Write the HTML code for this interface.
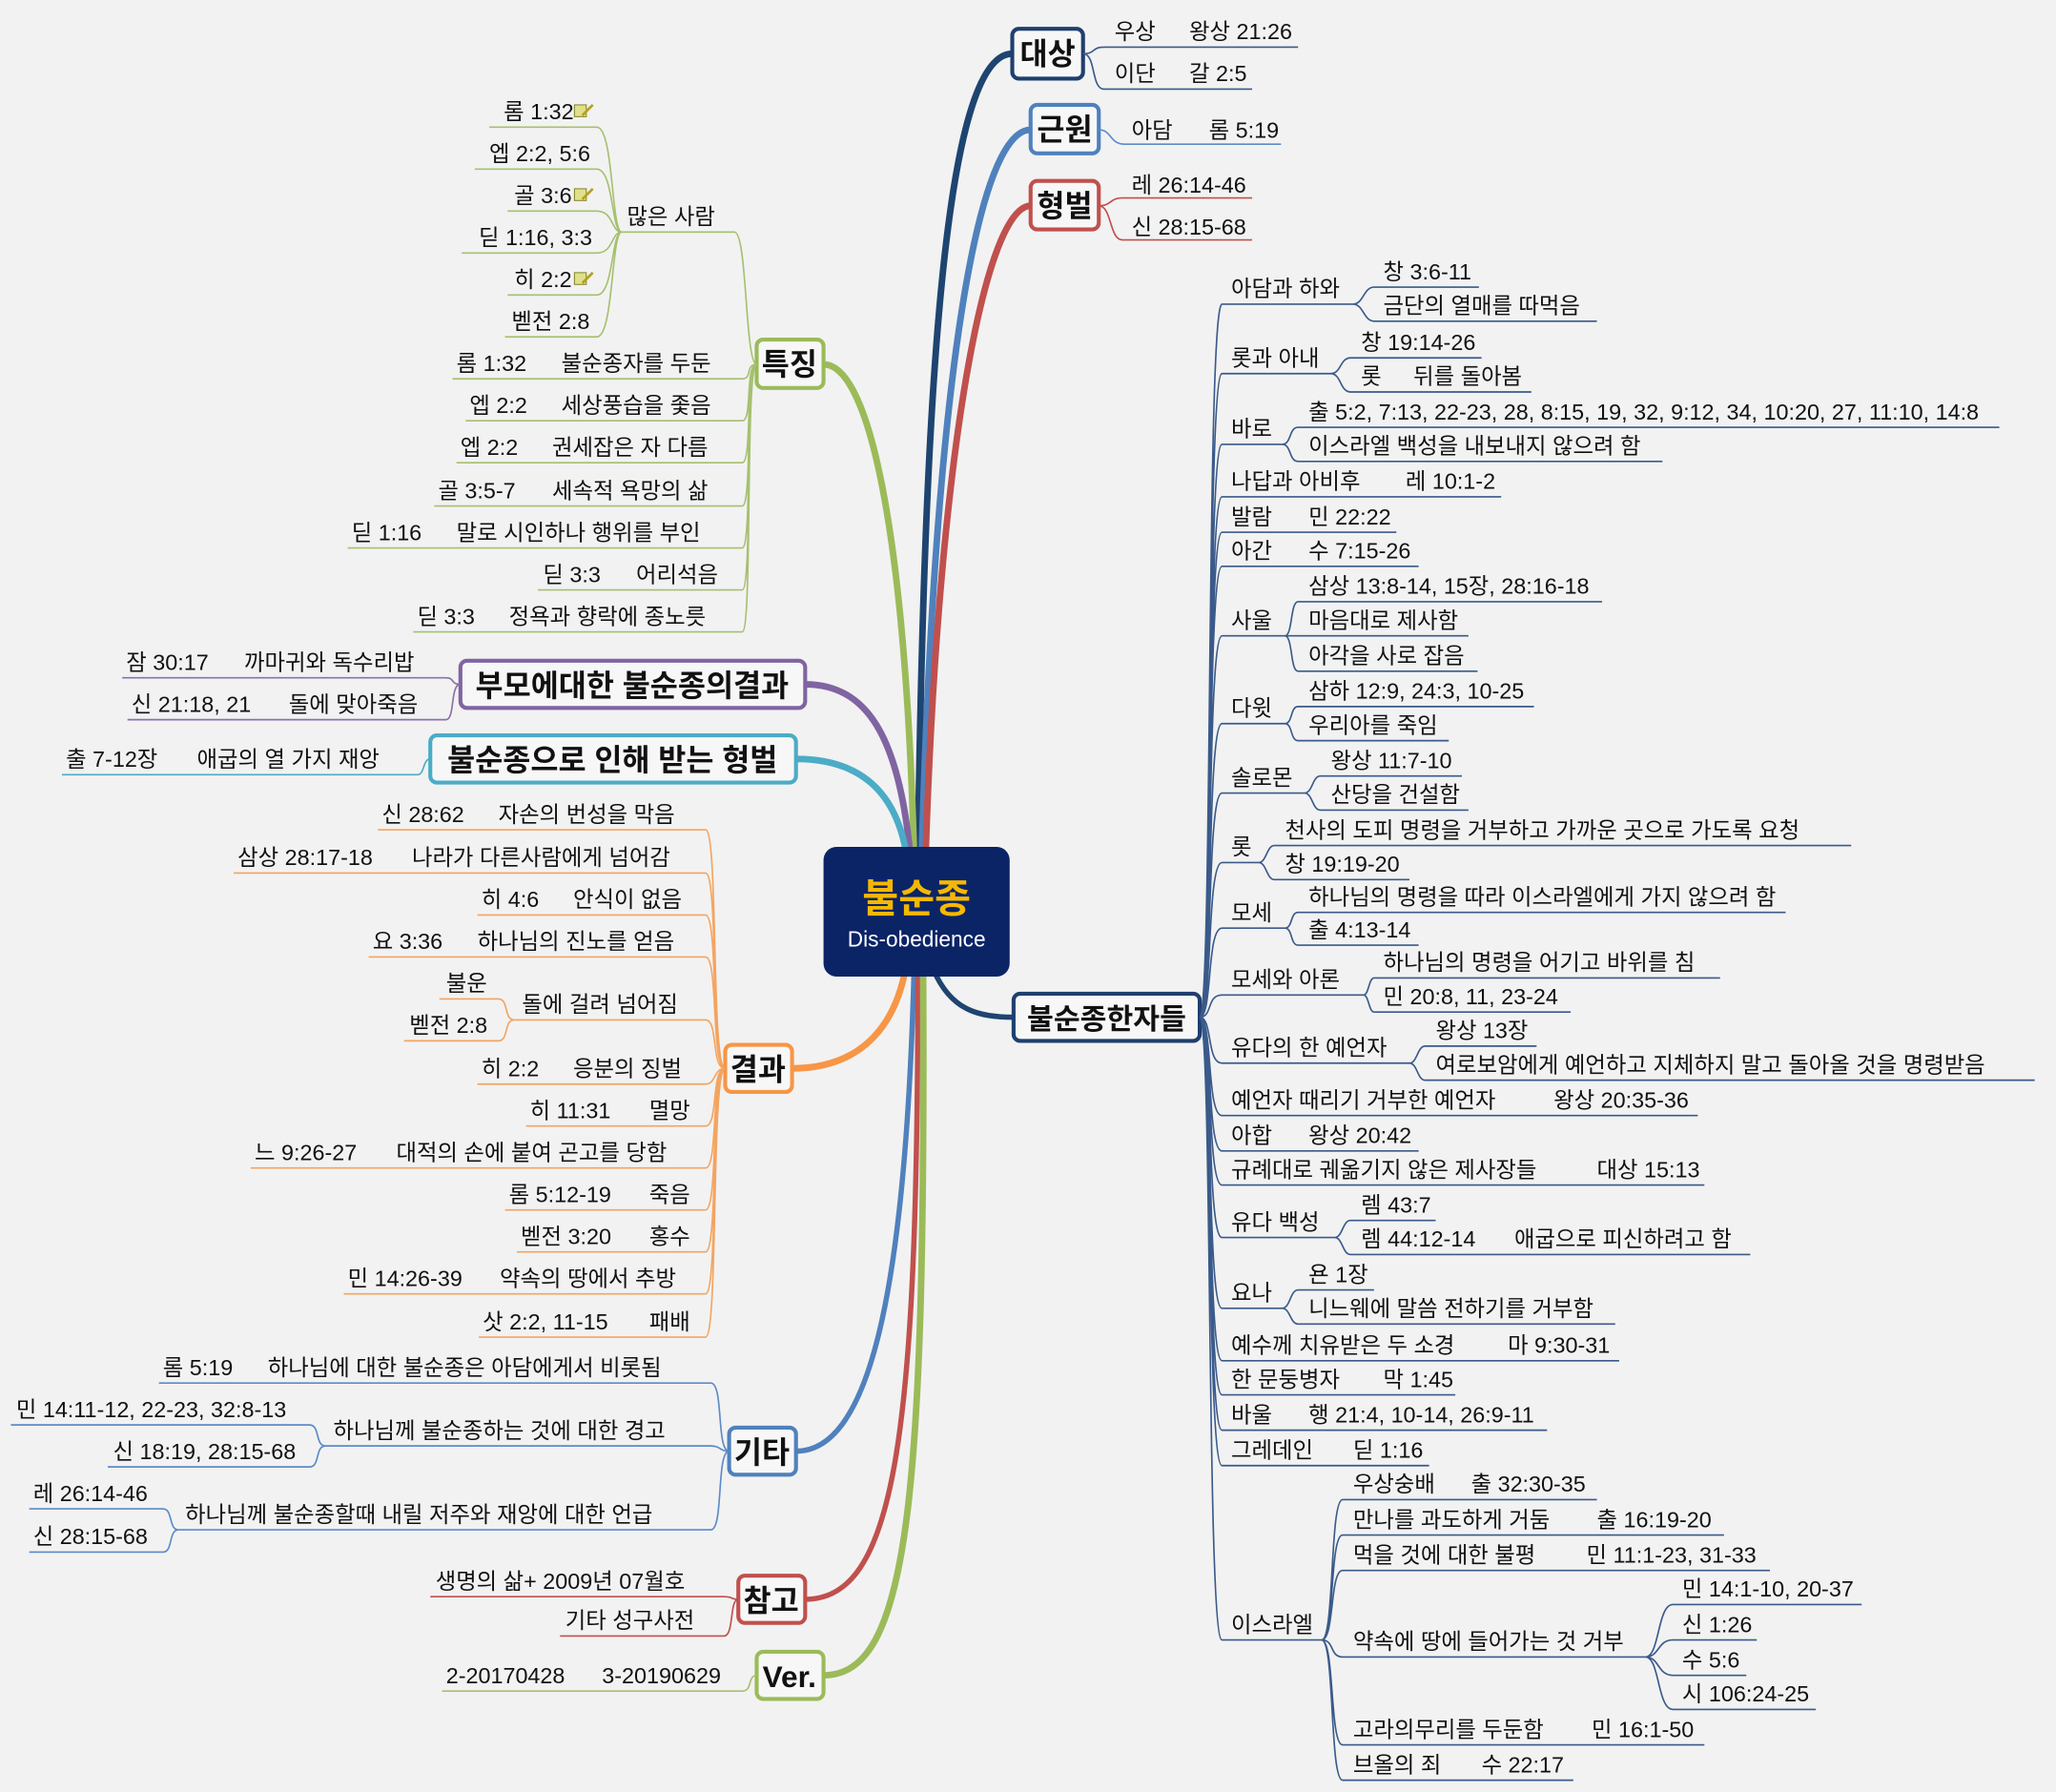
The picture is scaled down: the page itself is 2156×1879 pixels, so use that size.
<!DOCTYPE html>
<html><head><meta charset="utf-8"><style>
html,body{margin:0;padding:0;background:#f2f2f2}
svg{display:block}
text{font-family:"Liberation Sans","Noto Sans CJK KR",sans-serif;font-size:17px;fill:#111}
.b{font-size:23px;font-weight:bold}
.n{fill:none;stroke-width:1.2}
.bx{stroke-width:3;fill:#f7f7f7}
.D .n{stroke:#3a5a8a}.Bl .n{stroke:#5b8bc8}.R .n{stroke:#c0504d}
.G .n{stroke:#a6c070}.P .n{stroke:#8a70aa}.T .n{stroke:#4bacc6}.O .n{stroke:#f4a460}
</style></head><body>
<svg width="2156" height="1879" viewBox="0 0 1568 1367" xmlns="http://www.w3.org/2000/svg">
<rect width="1568" height="1367" fill="#f2f2f2"/>
<g fill="none" stroke-linecap="round">
<path d="M700 650 C705 300 720 41 772 41" stroke="#1e4470" stroke-width="5"/>
<path d="M703 650 C712 320 742 99 786 99" stroke="#4f81bd" stroke-width="5"/>
<path d="M706 650 C716 340 752 157 786 157" stroke="#c0504d" stroke-width="5"/>
<path d="M712 740 C725 770 745 776 773 776" stroke="#1e4470" stroke-width="4"/>
<path d="M697 650 C690 400 662 278 628 278" stroke="#9bbb59" stroke-width="5"/>
<path d="M694 650 C685 560 660 522 614 522" stroke="#8064a2" stroke-width="5"/>
<path d="M691 650 C682 600 652 579 607 579" stroke="#4bacc6" stroke-width="5"/>
<path d="M690 742 C680 790 650 815 604 815" stroke="#f79646" stroke-width="5"/>
<path d="M697 742 C690 1000 660 1107 607 1107" stroke="#4f81bd" stroke-width="4"/>
<path d="M700 742 C700 1100 682 1220 614 1220" stroke="#c0504d" stroke-width="4"/>
<path d="M704 742 C706 1150 692 1278 628 1278" stroke="#9bbb59" stroke-width="5"/>
</g>
<rect x="628" y="646" width="142" height="99" rx="10" fill="#0b2466"/>
<text x="699" y="696" text-anchor="middle" style="font-size:30px;font-weight:bold;fill:#f5b800">불순종</text>
<text x="699" y="722" text-anchor="middle" style="font-size:16.5px;fill:#fff">Dis-obedience</text>

<g class="D">
<rect class="bx" x="772" y="22" width="54" height="38" rx="5" stroke="#1f3f6e"/>
<text class="b" x="799" y="49" text-anchor="middle">대상</text>
<path class="n" d="M826 41 C836 41 832 36 842 36 H990 M826 41 C836 41 832 68 842 68 H955"/>
<text x="850" y="30">우상</text><text x="907" y="30">왕상 21:26</text>
<text x="850" y="62">이단</text><text x="907" y="62">갈 2:5</text>
</g>
<g class="Bl">
<rect class="bx" x="786" y="80" width="52" height="37" rx="5" stroke="#4f81bd"/>
<text class="b" x="812" y="107" text-anchor="middle">근원</text>
<path class="n" d="M838 99 C848 99 846 110 858 110 H977"/>
<text x="863" y="105">아담</text><text x="922" y="105">롬 5:19</text>
</g>
<g class="R">
<rect class="bx" x="786" y="138" width="52" height="37" rx="5" stroke="#c0504d"/>
<text class="b" x="812" y="165" text-anchor="middle">형벌</text>
<path class="n" d="M838 157 C848 157 846 151 856 151 H955 M838 157 C848 157 846 183 856 183 H955"/>
<text x="863" y="147">레 26:14-46</text><text x="863" y="179">신 28:15-68</text>
</g>

<g class="D">
<rect class="bx" x="773" y="758" width="142" height="36" rx="5" stroke="#1f3f6e"/>
<text class="b" x="844" y="785" text-anchor="middle" style="font-size:22px">불순종한자들</text>
<path class="n" d="
M915 776 C925 776 920 232 932 232 H1032 M1032 232 C1040 232 1040 219 1048 219 H1128 M1032 232 C1040 232 1040 245 1048 245 H1218
M915 776 C925 776 920 285 932 285 H1015 M1015 285 C1023 285 1022 273 1030 273 H1130 M1015 285 C1023 285 1022 299 1030 299 H1168
M915 776 C925 776 920 339 932 339 H978 M978 339 C985 339 983 326 990 326 H1525 M978 339 C985 339 983 352 990 352 H1268
M915 776 C925 776 920 379 932 379 H1145
M915 776 C925 776 920 406 932 406 H1065
M915 776 C925 776 920 432 932 432 H1082
M915 776 C925 776 920 485 932 485 H980 M980 485 C986 485 984 459 990 459 H1222 M980 485 H1120 M980 485 C986 485 984 512 990 512 H1127
M915 776 C925 776 920 552 932 552 H980 M980 552 C986 552 984 539 990 539 H1170 M980 552 C986 552 984 565 990 565 H1105
M915 776 C925 776 920 605 932 605 H995 M995 605 C1001 605 1001 592 1007 592 H1115 M995 605 C1001 605 1001 618 1007 618 H1120
M915 776 C925 776 920 658 932 658 H960 M960 658 C966 658 966 645 972 645 H1412 M960 658 C966 658 966 671 972 671 H1075
M915 776 C925 776 920 708 932 708 H980 M980 708 C986 708 984 696 990 696 H1362 M980 708 C986 708 984 721 990 721 H1082
M915 776 C925 776 920 759 932 759 H1040 M1040 759 C1044 759 1044 746 1048 746 H1312 M1040 759 C1044 759 1044 772 1048 772 H1198
M915 776 C925 776 920 811 932 811 H1075 M1075 811 C1081 811 1081 798 1087 798 H1172 M1075 811 C1081 811 1081 824 1087 824 H1552
M915 776 C925 776 920 851 932 851 H1295
M915 776 C925 776 920 878 932 878 H1082
M915 776 C925 776 920 904 932 904 H1300
M915 776 C925 776 920 944 932 944 H1018 M1018 944 C1024 944 1024 931 1030 931 H1095 M1018 944 C1024 944 1024 957 1030 957 H1335
M915 776 C925 776 920 998 932 998 H978 M978 998 C984 998 984 984 990 984 H1048 M978 998 C984 998 984 1010 990 1010 H1232
M915 776 C925 776 920 1038 932 1038 H1235
M915 776 C925 776 920 1064 932 1064 H1110
M915 776 C925 776 920 1091 932 1091 H1180
M915 776 C925 776 920 1118 932 1118 H1090
M915 776 C925 776 920 1251 932 1251 H1008
M1008 1251 C1018 1251 1014 1144 1024 1144 H1218
M1008 1251 C1018 1251 1014 1171 1024 1171 H1315
M1008 1251 C1018 1251 1014 1198 1024 1198 H1350
M1008 1251 C1018 1251 1014 1264 1024 1264 H1255
M1255 1264 C1266 1264 1264 1224 1276 1224 H1420 M1255 1264 C1266 1264 1264 1251 1276 1251 H1340 M1255 1264 C1266 1264 1264 1278 1276 1278 H1332 M1255 1264 C1266 1264 1264 1304 1276 1304 H1385
M1008 1251 C1018 1251 1014 1331 1024 1331 H1300
M1008 1251 C1018 1251 1014 1358 1024 1358 H1200
"/>
<text x="939" y="226">아담과 하와</text><text x="1055" y="213">창 3:6-11</text><text x="1055" y="239">금단의 열매를 따먹음</text>
<text x="939" y="279">롯과 아내</text><text x="1038" y="267">창 19:14-26</text><text x="1038" y="293">롯</text><text x="1078" y="293">뒤를 돌아봄</text>
<text x="939" y="333">바로</text><text x="998" y="320">출 5:2, 7:13, 22-23, 28, 8:15, 19, 32, 9:12, 34, 10:20, 27, 11:10, 14:8</text><text x="998" y="346">이스라엘 백성을 내보내지 않으려 함</text>
<text x="939" y="373">나답과 아비후</text><text x="1072" y="373">레 10:1-2</text>
<text x="939" y="400">발람</text><text x="998" y="400">민 22:22</text>
<text x="939" y="426">아간</text><text x="998" y="426">수 7:15-26</text>
<text x="939" y="479">사울</text><text x="998" y="453">삼상 13:8-14, 15장, 28:16-18</text><text x="998" y="479">마음대로 제사함</text><text x="998" y="506">아각을 사로 잡음</text>
<text x="939" y="546">다윗</text><text x="998" y="533">삼하 12:9, 24:3, 10-25</text><text x="998" y="559">우리아를 죽임</text>
<text x="939" y="599">솔로몬</text><text x="1015" y="586">왕상 11:7-10</text><text x="1015" y="612">산당을 건설함</text>
<text x="939" y="652">롯</text><text x="980" y="639">천사의 도피 명령을 거부하고 가까운 곳으로 가도록 요청</text><text x="980" y="665">창 19:19-20</text>
<text x="939" y="702">모세</text><text x="998" y="690">하나님의 명령을 따라 이스라엘에게 가지 않으려 함</text><text x="998" y="715">출 4:13-14</text>
<text x="939" y="753">모세와 아론</text><text x="1055" y="740">하나님의 명령을 어기고 바위를 침</text><text x="1055" y="766">민 20:8, 11, 23-24</text>
<text x="939" y="805">유다의 한 예언자</text><text x="1095" y="792">왕상 13장</text><text x="1095" y="818">여로보암에게 예언하고 지체하지 말고 돌아올 것을 명령받음</text>
<text x="939" y="845">예언자 때리기 거부한 예언자</text><text x="1185" y="845">왕상 20:35-36</text>
<text x="939" y="872">아합</text><text x="998" y="872">왕상 20:42</text>
<text x="939" y="898">규례대로 궤옮기지 않은 제사장들</text><text x="1218" y="898">대상 15:13</text>
<text x="939" y="938">유다 백성</text><text x="1038" y="925">렘 43:7</text><text x="1038" y="951">렘 44:12-14</text><text x="1155" y="951">애굽으로 피신하려고 함</text>
<text x="939" y="992">요나</text><text x="998" y="978">욘 1장</text><text x="998" y="1004">니느웨에 말씀 전하기를 거부함</text>
<text x="939" y="1032">예수께 치유받은 두 소경</text><text x="1150" y="1032">마 9:30-31</text>
<text x="939" y="1058">한 문둥병자</text><text x="1055" y="1058">막 1:45</text>
<text x="939" y="1085">바울</text><text x="998" y="1085">행 21:4, 10-14, 26:9-11</text>
<text x="939" y="1112">그레데인</text><text x="1032" y="1112">딛 1:16</text>
<text x="939" y="1245">이스라엘</text>
<text x="1032" y="1138">우상숭배</text><text x="1122" y="1138">출 32:30-35</text>
<text x="1032" y="1165">만나를 과도하게 거둠</text><text x="1218" y="1165">출 16:19-20</text>
<text x="1032" y="1192">먹을 것에 대한 불평</text><text x="1210" y="1192">민 11:1-23, 31-33</text>
<text x="1032" y="1258">약속에 땅에 들어가는 것 거부</text>
<text x="1283" y="1218">민 14:1-10, 20-37</text><text x="1283" y="1245">신 1:26</text><text x="1283" y="1272">수 5:6</text><text x="1283" y="1298">시 106:24-25</text>
<text x="1032" y="1325">고라의무리를 두둔함</text><text x="1214" y="1325">민 16:1-50</text>
<text x="1032" y="1352">브올의 죄</text><text x="1130" y="1352">수 22:17</text>
</g>

<g class="G">
<rect class="bx" x="577" y="259" width="51" height="37" rx="5" stroke="#9bbb59"/>
<text class="b" x="602" y="286" text-anchor="middle">특징</text>
<path class="n" d="
M577 278 C568 278 570 177 560 177 H474
M474 177 C466 177 468 97 455 97 H373 M474 177 C466 177 468 129 455 129 H362 M474 177 C466 177 468 161 455 161 H387
M474 177 C466 177 468 193 455 193 H352 M474 177 C466 177 468 225 455 225 H387 M474 177 C466 177 468 257 455 257 H385
M577 278 C568 278 574 289 566 289 H345
M577 278 C568 278 574 321 566 321 H355
M577 278 C568 278 574 353 566 353 H348
M577 278 C568 278 574 386 566 386 H331
M577 278 C568 278 574 418 566 418 H265
M577 278 C568 278 574 450 566 450 H410
M577 278 C568 278 574 482 566 482 H315"/>
<text x="478" y="171">많은 사람</text>
<text x="384" y="91">롬 1:32</text><text x="373" y="123">엡 2:2, 5:6</text><text x="392" y="155">골 3:6</text>
<text x="365" y="187">딛 1:16, 3:3</text><text x="392" y="219">히 2:2</text><text x="390" y="251">벧전 2:8</text>
<g fill="#dfe08a" stroke="#8a8a30" stroke-width="0.8"><rect x="438" y="80" width="9" height="9"/><rect x="438" y="144" width="9" height="9"/><rect x="438" y="208" width="9" height="9"/></g>
<g stroke="#b8a020" stroke-width="2"><path d="M444 88 L452 80 M444 152 L452 144 M444 216 L452 208"/></g>
<text x="348" y="283">롬 1:32</text><text x="428" y="283">불순종자를 두둔</text>
<text x="358" y="315">엡 2:2</text><text x="428" y="315">세상풍습을 좇음</text>
<text x="351" y="347">엡 2:2</text><text x="421" y="347">권세잡은 자 다름</text>
<text x="334" y="380">골 3:5-7</text><text x="421" y="380">세속적 욕망의 삶</text>
<text x="268" y="412">딛 1:16</text><text x="348" y="412">말로 시인하나 행위를 부인</text>
<text x="414" y="444">딛 3:3</text><text x="485" y="444">어리석음</text>
<text x="318" y="476">딛 3:3</text><text x="388" y="476">정욕과 향락에 종노릇</text>
</g>

<g class="P">
<rect class="bx" x="351" y="504" width="263" height="36" rx="5" stroke="#8064a2"/>
<text class="b" x="482" y="531" text-anchor="middle">부모에대한 불순종의결과</text>
<path class="n" d="M351 522 C343 522 347 517 340 517 H93 M351 522 C343 522 347 549 340 549 H97"/>
<text x="96" y="511">잠 30:17</text><text x="186" y="511">까마귀와 독수리밥</text>
<text x="100" y="543">신 21:18, 21</text><text x="220" y="543">돌에 맞아죽음</text>
</g>
<g class="T">
<rect class="bx" x="328" y="561" width="279" height="36" rx="5" stroke="#4bacc6"/>
<text class="b" x="467" y="588" text-anchor="middle">불순종으로 인해 받는 형벌</text>
<path class="n" d="M328 579 C322 579 324 591 318 591 H47"/>
<text x="50" y="585">출 7-12장</text><text x="150" y="585">애굽의 열 가지 재앙</text>
</g>

<g class="O">
<rect class="bx" x="553" y="797" width="51" height="36" rx="5" stroke="#f79646"/>
<text class="b" x="578" y="824" text-anchor="middle">결과</text>
<path class="n" d="
M553 815 C542 815 548 633 538 633 H288
M553 815 C542 815 548 666 538 666 H178
M553 815 C542 815 548 698 538 698 H364
M553 815 C542 815 548 730 538 730 H281
M553 815 C542 815 548 778 538 778 H392 M392 778 C384 778 388 762 380 762 H335 M392 778 C384 778 388 794 380 794 H308
M553 815 C544 815 546 827 538 827 H364
M553 815 C542 815 548 859 538 859 H401
M553 815 C542 815 548 891 538 891 H191
M553 815 C542 815 548 923 538 923 H385
M553 815 C542 815 548 955 538 955 H394
M553 815 C542 815 548 987 538 987 H262
M553 815 C542 815 548 1020 538 1020 H365"/>
<text x="291" y="627">신 28:62</text><text x="380" y="627">자손의 번성을 막음</text>
<text x="181" y="660">삼상 28:17-18</text><text x="314" y="660">나라가 다른사람에게 넘어감</text>
<text x="367" y="692">히 4:6</text><text x="437" y="692">안식이 없음</text>
<text x="284" y="724">요 3:36</text><text x="364" y="724">하나님의 진노를 얻음</text>
<text x="340" y="756">불운</text><text x="312" y="788">벧전 2:8</text><text x="398" y="772">돌에 걸려 넘어짐</text>
<text x="367" y="821">히 2:2</text><text x="437" y="821">응분의 징벌</text>
<text x="404" y="853">히 11:31</text><text x="495" y="853">멸망</text>
<text x="194" y="885">느 9:26-27</text><text x="302" y="885">대적의 손에 붙여 곤고를 당함</text>
<text x="388" y="917">롬 5:12-19</text><text x="495" y="917">죽음</text>
<text x="397" y="949">벧전 3:20</text><text x="495" y="949">홍수</text>
<text x="265" y="981">민 14:26-39</text><text x="381" y="981">약속의 땅에서 추방</text>
<text x="368" y="1014">삿 2:2, 11-15</text><text x="495" y="1014">패배</text>
</g>

<g class="Bl">
<rect class="bx" x="556" y="1089" width="51" height="36" rx="5" stroke="#4f81bd"/>
<text class="b" x="581" y="1116" text-anchor="middle">기타</text>
<path class="n" d="
M556 1107 C546 1107 552 1055 542 1055 H121
M556 1107 C548 1107 550 1103 542 1103 H248 M248 1103 C240 1103 244 1087 236 1087 H8 M248 1103 C240 1103 244 1119 236 1119 H82
M556 1107 C546 1107 552 1167 542 1167 H136 M136 1167 C128 1167 132 1151 124 1151 H22 M136 1167 C128 1167 132 1184 124 1184 H22"/>
<text x="124" y="1049">롬 5:19</text><text x="204" y="1049">하나님에 대한 불순종은 아담에게서 비롯됨</text>
<text x="12" y="1081">민 14:11-12, 22-23, 32:8-13</text><text x="86" y="1113">신 18:19, 28:15-68</text>
<text x="254" y="1097">하나님께 불순종하는 것에 대한 경고</text>
<text x="25" y="1145">레 26:14-46</text><text x="25" y="1178">신 28:15-68</text>
<text x="141" y="1161">하나님께 불순종할때 내릴 저주와 재앙에 대한 언급</text>
</g>

<g class="R">
<rect class="bx" x="563" y="1202" width="51" height="36" rx="5" stroke="#c0504d"/>
<text class="b" x="588" y="1229" text-anchor="middle">참고</text>
<path class="n" d="M563 1220 C556 1220 560 1218 552 1218 H328 M563 1220 C556 1220 560 1248 552 1248 H427"/>
<text x="332" y="1212">생명의 삶+ 2009년 07월호</text>
<text x="431" y="1242">기타 성구사전</text>
</g>
<g class="G">
<rect class="bx" x="577" y="1260" width="51" height="36" rx="5" stroke="#9bbb59"/>
<text class="b" x="602" y="1287" text-anchor="middle">Ver.</text>
<path class="n" d="M577 1278 C570 1278 574 1290 566 1290 H337"/>
<text x="340" y="1284">2-20170428</text><text x="459" y="1284">3-20190629</text>
</g>
</svg>
</body></html>
